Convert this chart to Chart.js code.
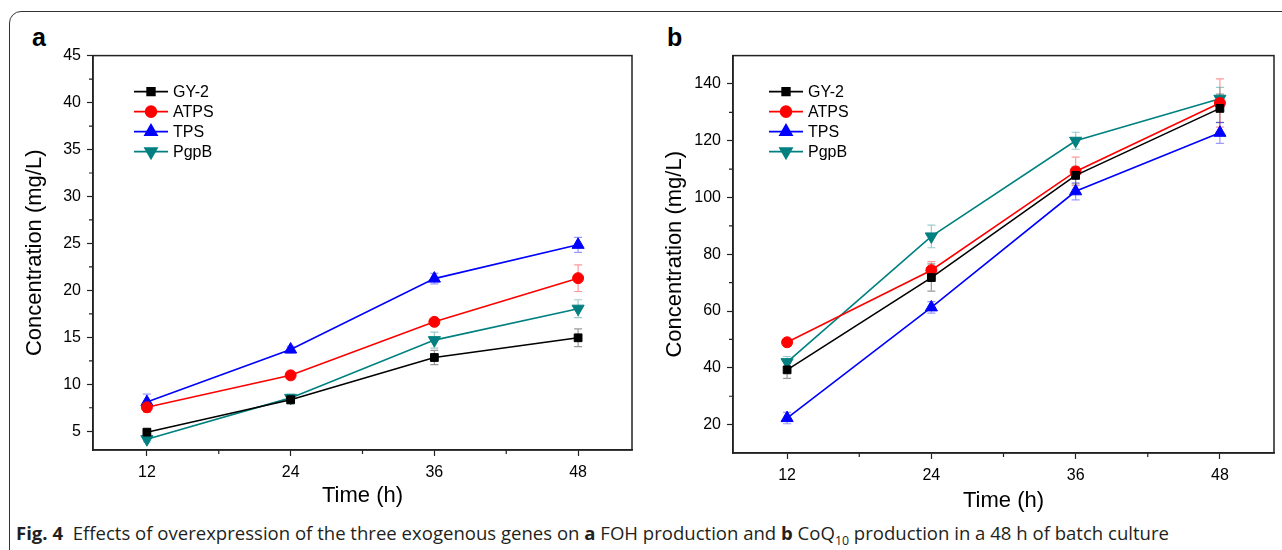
<!DOCTYPE html>
<html><head><meta charset="utf-8">
<script src="https://cdn.jsdelivr.net/npm/chart.js@4.4.0/dist/chart.umd.min.js"></script>
<style>
body{margin:0;width:1282px;height:550px;overflow:hidden;background:#fff;position:relative;font-family:'Liberation Sans',Arial,sans-serif;}
#frame{position:absolute;left:9px;top:11px;width:1320px;height:620px;border:1.3px solid #333;border-radius:12px;box-sizing:border-box;}
.plbl{position:absolute;font-weight:bold;font-size:25px;color:#000;line-height:1;}
#ca{position:absolute;left:0;top:40px;}
#cb{position:absolute;left:640px;top:40px;}
#cap{position:absolute;left:16px;top:521px;font-family:'Open Sans',sans-serif;font-size:18px;white-space:nowrap;transform-origin:0 50%;color:#231f20;}
#cap b{font-weight:700;}
</style></head>
<body>
<div id="frame"></div>
<div class="plbl" style="left:32px;top:25px;">a</div>
<div class="plbl" style="left:667px;top:25px;">b</div>
<canvas id="ca" width="640" height="480"></canvas>
<canvas id="cb" width="642" height="480"></canvas>
<div id="cap"><b>Fig. 4</b>&nbsp; Effects of overexpression of the three exogenous genes on <b>a</b> FOH production and <b>b</b> CoQ<sub style="font-size:12px;">10</sub> production in a 48 h of batch culture</div>
<script>
// ---- data ----
const times = [12, 24, 36, 48];
const seriesNames = ['GY-2', 'ATPS', 'TPS', 'PgpB'];
// panel a: FOH (mg/L)
const foh_GY2  = [4.9, 8.35, 12.85, 14.95];
const foh_ATPS = [7.55, 10.95, 16.65, 21.3];
const foh_TPS  = [8.1, 13.7, 21.25, 24.85];
const foh_PgpB = [4.15, 8.55, 14.7, 18.05];
const fohErr_GY2  = [0.3, 0.45, 0.75, 0.95];
const fohErr_ATPS = [0.55, 0.3, 0.3, 1.42];
const fohErr_TPS  = [0.85, 0.35, 0.55, 0.8];
const fohErr_PgpB = [0.3, 0.4, 0.85, 0.95];
// panel b: CoQ10 (mg/L)
const coq_GY2  = [39.3, 71.8, 107.8, 131.4];
const coq_ATPS = [49.0, 74.4, 109.2, 133.3];
const coq_TPS  = [22.3, 61.3, 102.2, 122.8];
const coq_PgpB = [42.0, 86.3, 120.0, 134.8];
const coqErr_GY2  = [3.0, 4.8, 3.0, 5.0];
const coqErr_ATPS = [1.0, 3.0, 5.0, 8.5];
const coqErr_TPS  = [2.0, 2.0, 3.0, 3.7];
const coqErr_PgpB = [2.0, 4.0, 3.0, 4.0];
// ticks
const timeTicks = [12, 24, 36, 48];
const timeMinor = [18, 30, 42];
const fohTicks = [5, 10, 15, 20, 25, 30, 35, 40, 45];
const fohMinor = [7.5, 12.5, 17.5, 22.5, 27.5, 32.5, 37.5, 42.5];
const coqTicks = [20, 40, 60, 80, 100, 120, 140];
const coqMinor = [30, 50, 70, 90, 110, 130];

// ---- styles ----
const colors = ['#000000', '#ff0000', '#0000ff', '#008080'];
const errColors = ['rgba(0,0,0,0.4)', 'rgba(255,0,0,0.4)', 'rgba(0,0,255,0.4)', 'rgba(0,128,128,0.4)'];
const pStyles = ['rect', 'circle', 'triangle', 'triangle'];
const pRot = [0, 0, 0, 180];
const pRad = [5.5, 5.5, 7, 7];
const AX = '#222';
const FONT = '"Liberation Sans", Arial, sans-serif';

function makeDatasets(vals, errs) {
  return vals.map((v, i) => ({
    label: seriesNames[i],
    data: times.map((t, k) => ({x: t, y: v[k]})),
    errs: errs[i],
    borderColor: colors[i], backgroundColor: colors[i],
    borderWidth: 1.6, pointStyle: pStyles[i], pointRotation: pRot[i],
    pointRadius: pRad[i], pointBorderWidth: 1, pointBorderColor: colors[i],
    pointBackgroundColor: colors[i], tension: 0
  }));
}

const decoPlugin = {
  id: 'deco',
  beforeDatasetsDraw(chart) {
    const ctx = chart.ctx, xs = chart.scales.x, ys = chart.scales.y;
    ctx.save();
    chart.data.datasets.forEach((ds, i) => {
      ctx.strokeStyle = errColors[i]; ctx.lineWidth = 1.2;
      ds.data.forEach((p, k) => {
        const e = ds.errs[k];
        const x = xs.getPixelForValue(p.x);
        const y1 = ys.getPixelForValue(p.y + e), y2 = ys.getPixelForValue(p.y - e);
        ctx.beginPath();
        ctx.moveTo(x, y1); ctx.lineTo(x, y2);
        ctx.moveTo(x - 4, y1); ctx.lineTo(x + 4, y1);
        ctx.moveTo(x - 4, y2); ctx.lineTo(x + 4, y2);
        ctx.stroke();
      });
    });
    ctx.restore();
  },
  afterDatasetsDraw(chart, args, opts) {
    const ctx = chart.ctx, a = chart.chartArea, xs = chart.scales.x, ys = chart.scales.y;
    ctx.save();
    ctx.strokeStyle = AX; ctx.lineWidth = 1.5;
    ctx.strokeRect(a.left, a.top, a.right - a.left, a.bottom - a.top);
    ctx.lineWidth = 1.2;
    ctx.beginPath();
    timeMinor.forEach(v => { const x = xs.getPixelForValue(v); ctx.moveTo(x, a.bottom); ctx.lineTo(x, a.bottom + 4); });
    opts.yMinor.forEach(v => { const y = ys.getPixelForValue(v); ctx.moveTo(a.left, y); ctx.lineTo(a.left - 4, y); });
    ctx.stroke();
    ctx.font = '16px ' + FONT;
    ctx.textBaseline = 'middle';
    chart.data.datasets.forEach((ds, i) => {
      const y = a.top + opts.legTop + i * 20;
      const x0 = a.left + opts.legLeft;
      ctx.strokeStyle = colors[i]; ctx.lineWidth = 1.6;
      ctx.beginPath(); ctx.moveTo(x0, y); ctx.lineTo(x0 + 34, y); ctx.stroke();
      ctx.fillStyle = colors[i];
      Chart.helpers.drawPoint(ctx, {pointStyle: pStyles[i], rotation: pRot[i], radius: pRad[i], borderWidth: 1}, x0 + 17, y);
      ctx.fillStyle = '#000';
      ctx.fillText(ds.label, x0 + 39, y + 1);
    });
    ctx.restore();
  }
};

function makeChart(id, vals, errs, yMin, yMax, yTicks, yMinor, pad, yW, xH, xTitlePad, legLeft, legTop) {
  const tickFont = {family: FONT, size: 16};
  const titleFont = {family: FONT, size: 22};
  return new Chart(document.getElementById(id), {
    type: 'line',
    data: {datasets: makeDatasets(vals, errs)},
    options: {
      responsive: false, animation: false, devicePixelRatio: 1,
      layout: {padding: pad},
      plugins: {legend: {display: false}, tooltip: {enabled: false}, deco: {yMinor, legLeft, legTop}},
      scales: {
        x: {
          type: 'linear', min: 7.5, max: 52.5,
          afterBuildTicks: s => { s.ticks = timeTicks.map(v => ({value: v})); },
          afterFit: s => { s.height = xH; },
          ticks: {color: '#000', font: tickFont, padding: 7, maxRotation: 0},
          grid: {drawOnChartArea: false, drawTicks: true, tickLength: 6, tickColor: AX, tickWidth: 1.2},
          border: {display: true, color: AX, width: 1.5},
          title: {display: true, text: 'Time (h)', color: '#000', font: titleFont, padding: {top: 0, bottom: xTitlePad}}
        },
        y: {
          type: 'linear', min: yMin, max: yMax,
          afterBuildTicks: s => { s.ticks = yTicks.map(v => ({value: v})); },
          afterFit: s => { s.width = yW; },
          ticks: {color: '#000', font: tickFont, padding: 6},
          grid: {drawOnChartArea: false, drawTicks: true, tickLength: 6, tickColor: AX, tickWidth: 1.2},
          border: {display: true, color: AX, width: 1.5},
          title: {display: true, text: 'Concentration (mg/L)', color: '#000', font: titleFont, padding: {top: 22, bottom: 0}}
        }
      }
    },
    plugins: [decoPlugin]
  });
}

makeChart('ca', [foh_GY2, foh_ATPS, foh_TPS, foh_PgpB], [fohErr_GY2, fohErr_ATPS, fohErr_TPS, fohErr_PgpB],
  3, 45, fohTicks, fohMinor, {left: 0, top: 12, right: 7, bottom: 0}, 93, 70, 11, 41, 36);
makeChart('cb', [coq_GY2, coq_ATPS, coq_TPS, coq_PgpB], [coqErr_GY2, coqErr_ATPS, coqErr_TPS, coqErr_PgpB],
  10, 150, coqTicks, coqMinor, {left: 0, top: 12, right: 3, bottom: 0}, 93, 67, 6, 36, 36);

const cap = document.getElementById('cap');
const w = cap.getBoundingClientRect().width;
cap.style.transform = 'scaleX(' + (1153 / w) + ')';
</script>
</body></html>
